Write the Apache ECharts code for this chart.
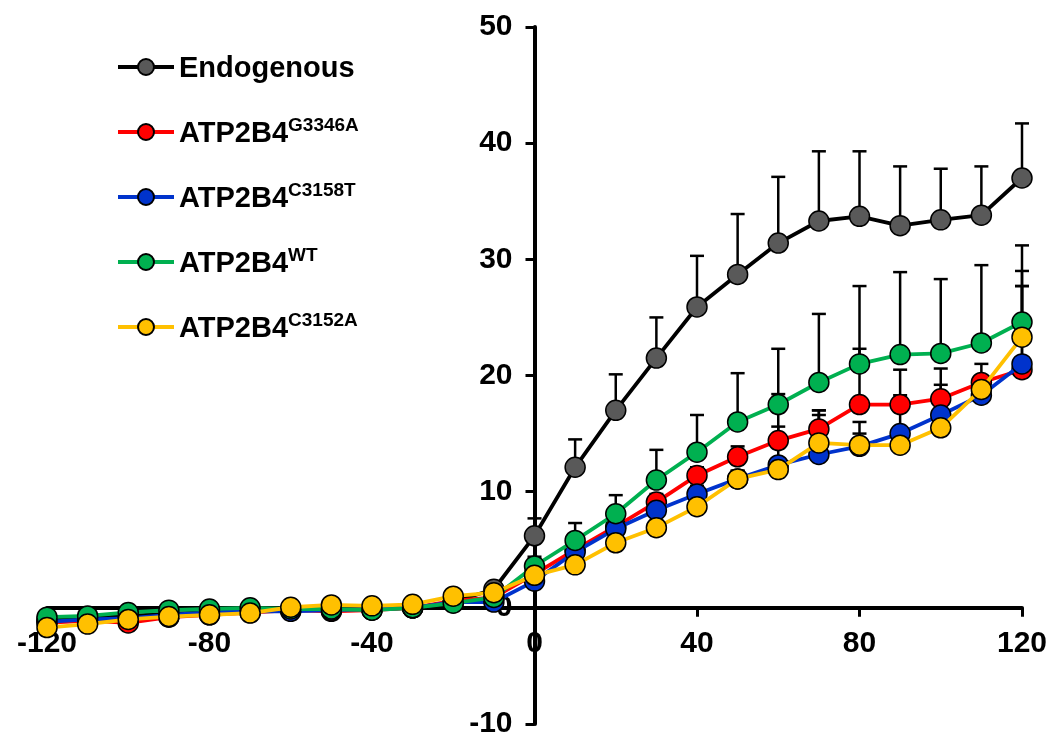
<!DOCTYPE html>
<html><head><meta charset="utf-8">
<script src="https://cdn.jsdelivr.net/npm/echarts@6/dist/echarts.min.js"></script>
<style>html,body{margin:0;padding:0;background:#fff}#c{width:1052px;height:739px}</style>
</head><body><div id="c"></div>
<script>
// ---- data ----
const times = [-120,-110,-100,-90,-80,-70,-60,-50,-40,-30,-20,-10,0,10,20,30,40,50,60,70,80,90,100,110,120];
const endogenous = [-1.0,-0.9,-0.7,-0.5,-0.4,-0.3,-0.2,-0.2,-0.1,0.0,0.5,1.6,6.2,12.1,17.0,21.5,25.9,28.7,31.4,33.3,33.7,32.9,33.4,33.8,37.0];
const g3346a = [-1.3,-1.1,-1.3,-0.8,-0.6,-0.4,-0.2,-0.3,-0.2,0.0,0.6,0.9,2.9,5.0,7.0,9.1,11.4,13.0,14.4,15.4,17.5,17.5,18.0,19.4,20.5];
const c3158t = [-1.2,-1.0,-0.9,-0.6,-0.4,-0.3,-0.3,-0.2,-0.1,0.0,0.5,0.5,2.3,4.8,6.8,8.4,9.8,11.1,12.3,13.2,13.9,15.0,16.6,18.3,21.0];
const wt = [-0.8,-0.7,-0.4,-0.2,-0.1,0.0,-0.1,-0.1,-0.2,0.0,0.4,0.9,3.6,5.8,8.1,11.0,13.4,16.0,17.5,19.4,21.0,21.8,21.9,22.8,24.6];
const c3152a = [-1.7,-1.4,-1.0,-0.75,-0.6,-0.45,0.05,0.25,0.17,0.3,1.0,1.3,2.8,3.7,5.6,6.9,8.7,11.1,11.9,14.2,14.0,14.0,15.5,18.8,23.3];
// upper error-bar ends (absolute values) for times 0..120
const errTimes = [0,10,20,30,40,50,60,70,80,90,100,110,120];
const endogenousTop = [7.7,14.5,20.1,25.0,30.3,33.9,37.1,39.3,39.3,38.0,37.8,38.0,41.7];
const g3346aTop = [3.4,5.6,7.7,9.8,12.1,13.9,18.4,17.0,22.3,20.5,20.6,21.0,29.0];
const c3158tTop = [2.8,5.2,7.3,9.0,10.5,11.8,15.6,16.6,16.0,18.3,19.2,19.5,27.7];
const wtTop = [4.4,7.3,9.7,13.6,16.6,20.2,22.3,25.3,27.7,28.9,28.3,29.5,31.2];
const c3152aTop = [3.2,4.3,6.3,7.5,9.4,11.8,12.6,17.0,15.0,15.0,16.5,19.5,27.7];
const xTicks = {min:-120, max:120, interval:40};
const yTicks = {min:-10, max:50, interval:10};
const legendBase = ['Endogenous','ATP2B4','ATP2B4','ATP2B4','ATP2B4'];
const legendSup = ['','G3346A','C3158T','WT','C3152A'];

// ---- chart ----
const names = legendBase.map((b,i)=> b + (legendSup[i] ? ' ' + legendSup[i] : ''));
const values = [endogenous, g3346a, c3158t, wt, c3152a];
const tops = [endogenousTop, g3346aTop, c3158tTop, wtTop, c3152aTop];
const fills = ['#595959','#FF0000','#0033CC','#00B050','#FFC000'];
const lines = ['#000000','#FF0000','#0033CC','#00B050','#FFC000'];

function errRender(params, api){
  const x = api.value(0), v = api.value(1), t = api.value(2);
  const p0 = api.coord([x, v]), p1 = api.coord([x, t]);
  const hw = 7;
  return {type:'group', children:[
    {type:'line', shape:{x1:p0[0],y1:p0[1],x2:p1[0],y2:p1[1]}, style:{stroke:'#000',lineWidth:2.5}},
    {type:'line', shape:{x1:p1[0]-hw,y1:p1[1],x2:p1[0]+hw,y2:p1[1]}, style:{stroke:'#000',lineWidth:2.5}}
  ]};
}

const series = [];
values.forEach((vals, i) => {
  const errData = errTimes.map((t, k) => [t, vals[times.indexOf(t)], tops[i][k]]);
  series.push({
    type:'custom', name: names[i] + ' err', renderItem: errRender, data: errData,
    z: 1, silent: true, encode:{x:0, y:[1,2]}
  });
});
values.forEach((vals, i) => {
  series.push({
    type:'line', name: names[i], data: times.map((t,k)=>[t, vals[k]]),
    symbol:'circle', symbolSize:20, z: 2 + i,
    lineStyle:{color: lines[i], width:3.8},
    itemStyle:{color: fills[i], borderColor:'#000', borderWidth:1.5},
    emphasis:{disabled:true}, animation:false
  });
});

const W = 1052, H = 739;
const G = {left:47, right:30, top:27, bottom:15};
const gw = W - G.left - G.right, gh = H - G.top - G.bottom;
const yAxisOffset = -gw * (0 - xTicks.min) / (xTicks.max - xTicks.min);
const xAxisOffset = -gh * (0 - yTicks.min) / (yTicks.max - yTicks.min);

const font = '"Liberation Sans", Arial, sans-serif';
const chart = echarts.init(document.getElementById('c'), null, {renderer:'canvas', width:W, height:H});
chart.setOption({
  animation:false,
  backgroundColor:'#fff',
  grid:{left:G.left, right:G.right, top:G.top, bottom:G.bottom, containLabel:false, outerBoundsMode:'none'},
  xAxis:{
    type:'value', min:xTicks.min, max:xTicks.max, interval:xTicks.interval,
    position:'bottom', offset:xAxisOffset,
    axisLine:{onZero:false, lineStyle:{color:'#000', width:4}},
    axisTick:{show:true, length:9, inside:false, lineStyle:{color:'#000', width:3}},
    axisLabel:{color:'#000', fontSize:30, fontWeight:'bold', fontFamily:font, margin:21},
    splitLine:{show:false}
  },
  yAxis:{
    type:'value', min:yTicks.min, max:yTicks.max, interval:yTicks.interval,
    position:'left', offset:yAxisOffset,
    axisLine:{show:true, onZero:false, lineStyle:{color:'#000', width:4}},
    axisTick:{show:true, length:9, inside:false, lineStyle:{color:'#000', width:3}},
    axisLabel:{color:'#000', fontSize:30, fontWeight:'bold', fontFamily:font, margin:22},
    splitLine:{show:false}
  },
  legend:{
    data: names, orient:'vertical', left:116, top:54, padding:0,
    itemWidth:56, itemHeight:20, itemGap:33,
    selectedMode:false,
    lineStyle:{width:4},
    formatter: function(name){
      const i = names.indexOf(name);
      return legendSup[i] ? '{b|' + legendBase[i] + '}{s|' + legendSup[i] + '}' : '{b|' + legendBase[i] + '}';
    },
    textStyle:{
      color:'#000', fontFamily:font, fontWeight:'bold', fontSize:29,
      rich:{
        b:{fontSize:29, fontWeight:'bold', fontFamily:font, color:'#000', lineHeight:32, verticalAlign:'bottom'},
        s:{fontSize:19, fontWeight:'bold', fontFamily:font, color:'#000', lineHeight:32, verticalAlign:'top'}
      }
    }
  },
  series: series
});
</script>
</body></html>
